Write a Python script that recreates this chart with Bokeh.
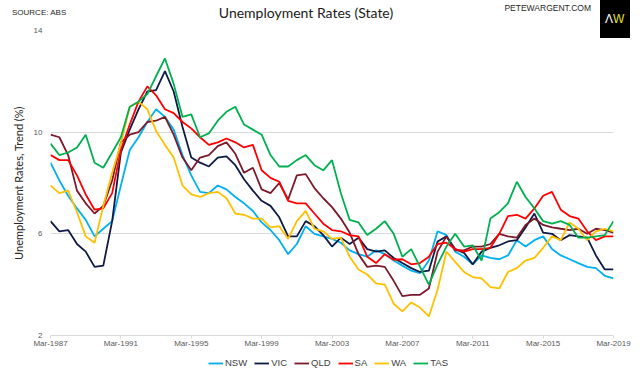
import pandas as pd
from bokeh.plotting import figure
from bokeh.layouts import column
from bokeh.models import (Range1d, FixedTicker, DatetimeTickFormatter, Div,
                          Legend, LegendItem, ColumnDataSource)
from bokeh.embed import file_html
from bokeh.resources import INLINE

# half-yearly observations, Mar-1987 .. Mar-2019
dates = pd.date_range("1987-03-01", "2019-03-01", freq="6MS")

nsw = [8.8, 8.1, 7.5, 7.0, 6.55, 5.9, 6.2, 6.5, 7.9, 9.3, 9.8, 10.4, 10.9, 10.6, 10.1, 9.1, 8.3,
       7.65, 7.6, 7.9, 7.75, 7.45, 7.2, 6.9, 6.45, 6.15, 5.75, 5.2, 5.6, 6.3, 6.0, 5.9, 5.8,
       5.65, 5.35, 5.2, 5.1, 5.35, 5.2, 4.95, 4.75, 4.55, 4.45, 4.95, 6.1, 5.95, 5.3, 5.1, 4.8,
       5.15, 5.05, 5.0, 5.15, 5.75, 5.5, 5.75, 5.9, 5.4, 5.15, 5.0, 4.85, 4.7, 4.65, 4.35, 4.25]
vic = [6.5, 6.1, 6.15, 5.6, 5.3, 4.7, 4.75, 6.5, 9.2, 10.1, 10.9, 11.6, 11.65, 12.4, 11.6, 10.2, 9.0,
       8.8, 8.65, 9.0, 9.05, 8.7, 8.15, 7.7, 7.3, 7.1, 6.65, 5.9, 5.9, 6.5, 6.3, 5.95, 5.5,
       5.85, 5.6, 5.85, 5.4, 5.3, 5.35, 5.05, 4.85, 4.65, 4.5, 4.55, 5.7, 5.9, 5.4, 5.25, 4.8,
       5.3, 5.45, 5.55, 5.7, 5.75, 6.25, 6.8, 6.05, 6.0, 5.75, 5.95, 5.9, 5.85, 5.15, 4.6, 4.6]
qld = [9.9, 9.8, 9.1, 7.7, 7.2, 6.8, 7.1, 8.1, 9.6, 9.9, 10.0, 10.4, 10.45, 10.6, 9.9, 9.0, 8.5,
       9.0, 9.1, 9.45, 9.6, 9.15, 8.4, 8.6, 7.75, 7.6, 8.0, 7.35, 8.3, 8.35, 7.8, 7.4, 7.05,
       6.6, 6.05, 5.2, 4.7, 4.75, 4.7, 4.15, 3.55, 3.6, 3.6, 3.85, 5.3, 5.9, 5.35, 5.35, 5.5,
       5.5, 5.6, 6.0, 5.9, 5.85, 6.35, 6.6, 6.35, 6.25, 6.2, 6.15, 6.2, 6.0, 6.2, 6.15, 6.05]
sa = [9.1, 8.9, 8.9, 8.3, 7.55, 6.95, 7.0, 7.6, 9.3, 10.3, 11.2, 11.8, 11.45, 10.9, 10.75, 10.4, 10.15,
      9.8, 9.5, 9.6, 9.75, 9.6, 9.4, 9.5, 8.5, 8.2, 8.05, 7.3, 7.2, 7.2, 6.8, 6.4, 6.15,
      6.1, 5.95, 5.9, 5.1, 4.85, 5.2, 4.98, 5.0, 4.8, 4.85, 5.1, 5.6, 5.65, 5.4, 5.3, 5.4,
      5.4, 5.45, 6.0, 6.7, 6.75, 6.6, 7.0, 7.5, 7.65, 6.95, 6.7, 6.6, 6.1, 5.75, 5.9, 5.9]
wa = [7.9, 7.6, 7.7, 6.85, 5.9, 5.65, 7.1, 8.4, 9.55, 11.0, 11.2, 10.9, 10.05, 9.5, 9.0, 7.9, 7.55,
      7.45, 7.6, 7.65, 7.4, 6.8, 6.75, 6.6, 6.6, 6.25, 6.3, 5.8, 6.5, 6.9, 6.2, 6.1, 5.8,
      5.85, 5.1, 4.6, 4.4, 4.05, 4.0, 3.25, 2.95, 3.3, 3.1, 2.75, 3.8, 5.3, 4.9, 4.5, 4.3,
      4.25, 3.9, 3.85, 4.5, 4.65, 4.95, 5.05, 5.45, 5.9, 5.75, 6.45, 6.2, 5.75, 6.1, 6.2, 6.1]
tas = [9.55, 9.1, 9.2, 9.4, 9.9, 8.8, 8.6, 9.2, 9.8, 11.0, 11.2, 11.5, 12.2, 12.9, 11.9, 10.6, 10.7,
       9.8, 9.95, 10.45, 10.8, 11.0, 10.3, 10.1, 9.9, 9.1, 8.65, 8.65, 8.9, 9.1, 8.7, 8.5, 8.9,
       7.6, 6.55, 6.45, 5.95, 6.2, 6.5, 6.0, 5.1, 5.4, 4.7, 4.0, 4.8, 5.5, 6.0, 5.5, 5.55,
       4.95, 6.6, 6.85, 7.2, 8.05, 7.45, 7.0, 6.5, 6.4, 6.5, 6.35, 5.85, 5.85, 5.9, 5.95, 6.5]

series_names = ["NSW", "VIC", "QLD", "SA", "WA", "TAS"]
series_colors = ["#00B0F0", "#0F1B45", "#7A1A2A", "#FF0000", "#FFC000", "#00B050"]
tick_labels = ["Mar-1987", "Mar-1991", "Mar-1995", "Mar-1999", "Mar-2003",
               "Mar-2007", "Mar-2011", "Mar-2015", "Mar-2019"]
y_ticks = [2, 6, 10, 14]
title_text = "Unemployment Rates (State)"
source_text = "SOURCE: ABS"
site_text = "PETEWARGENT.COM"

W = 640

# ---------------- header strip (title, source, site, logo) ----------------
ls = "'Liberation Sans', Arial, sans-serif"
hdr_html = (
    '<div style="position:relative;width:640px;height:25px;overflow:visible;z-index:50;">'
    f'<span style="position:absolute;left:12px;top:9px;font:8px/8px {ls};color:#262626;'
    f'white-space:nowrap;">{source_text}</span>'
    '<span style="position:absolute;left:156px;top:5.6px;width:300px;text-align:center;'
    f'font:14px/14px Lato, sans-serif;color:#1a1a1a;white-space:nowrap;">{title_text}</span>'
    f'<span style="position:absolute;right:49px;top:3.8px;font:8.5px/8.5px {ls};color:#262626;'
    f'white-space:nowrap;">{site_text}</span>'
    '<div style="position:absolute;left:600px;top:0px;width:30px;height:38px;background:#000;"></div>'
    f'<span style="position:absolute;left:605px;top:12.5px;font:12px/12px {ls};color:#ffffff;">Λ</span>'
    f'<span style="position:absolute;left:613px;top:12.5px;font:12px/12px {ls};color:#E2E21E;">W</span>'
    '</div>'
)
hdr = Div(text=hdr_html, width=W, height=25, margin=0)

# ---------------- main chart ----------------
source = ColumnDataSource(dict(date=dates, NSW=nsw, VIC=vic, QLD=qld, SA=sa, WA=wa, TAS=tas))

p = figure(width=W, height=328, x_axis_type="datetime",
           x_range=Range1d(dates[0].to_pydatetime(), dates[-1].to_pydatetime()),
           y_range=Range1d(2, 14),
           output_backend="svg", toolbar_location=None,
           min_border_left=50, min_border_right=27, min_border_top=5, min_border_bottom=18)
p.outline_line_color = None
p.background_fill_color = "white"
p.border_fill_color = "white"

for name, color in zip(series_names, series_colors):
    p.line("date", name, source=source, line_color=color, line_width=1.8)

tick_ms = [pd.to_datetime(t, format="%b-%Y").timestamp() * 1000 for t in tick_labels]
p.xaxis.ticker = FixedTicker(ticks=tick_ms)
fmt = "%b-%Y"
p.xaxis.formatter = DatetimeTickFormatter(milliseconds=fmt, seconds=fmt, minsec=fmt, minutes=fmt,
                                          hourmin=fmt, hours=fmt, days=fmt, months=fmt, years=fmt)
p.xaxis.axis_line_color = "#D9D9D9"
p.xaxis.major_tick_line_color = "#D9D9D9"
p.xaxis.major_tick_in = 0
p.xaxis.major_tick_out = 3
p.xaxis.minor_tick_line_color = None
p.xaxis.major_label_standoff = 0
p.xaxis.major_label_text_font = "Liberation Sans"
p.xaxis.major_label_text_font_size = "8px"
p.xaxis.major_label_text_color = "#595959"

p.yaxis.ticker = FixedTicker(ticks=y_ticks)
p.yaxis.axis_line_color = None
p.yaxis.major_tick_line_color = None
p.yaxis.major_tick_in = 0
p.yaxis.major_tick_out = 0
p.yaxis.minor_tick_line_color = None
p.yaxis.major_label_standoff = 8
p.yaxis.major_label_text_font = "Liberation Sans"
p.yaxis.major_label_text_font_size = "8px"
p.yaxis.major_label_text_color = "#595959"
p.yaxis.axis_label = "Unemployment Rates, Trend (%)"
p.yaxis.axis_label_text_font = "Lato"
p.yaxis.axis_label_text_font_size = "11px"
p.yaxis.axis_label_text_font_style = "normal"
p.yaxis.axis_label_text_color = "#262626"
p.yaxis.axis_label_standoff = 6

p.xgrid.grid_line_color = None
p.ygrid.grid_line_color = "#D9D9D9"
p.ygrid.grid_line_width = 1

# ---------------- legend strip ----------------
ftr = figure(width=W, height=21, x_range=Range1d(0, 1), y_range=Range1d(0, 1),
             output_backend="svg", toolbar_location=None, min_border=0,
             x_axis_location=None, y_axis_location=None)
ftr.grid.visible = False
ftr.outline_line_color = None
items = []
for name, color in zip(series_names, series_colors):
    # same series; far outside this strip's ranges, so only the legend swatch shows
    r = ftr.line("date", name, source=source, line_color=color, line_width=1.8)
    items.append(LegendItem(label=name, renderers=[r]))
legend = Legend(items=items, orientation="horizontal", location=(158, 6))
legend.background_fill_alpha = 0
legend.border_line_color = None
legend.padding = 0
legend.margin = 0
legend.spacing = 7
legend.glyph_width = 15
legend.glyph_height = 10
legend.label_height = 10
legend.label_width = 0
legend.label_standoff = 2
legend.label_text_font = "Liberation Sans"
legend.label_text_font_size = "9.5px"
legend.label_text_color = "#404040"
ftr.add_layout(legend)

layout = column(hdr, p, ftr, spacing=0)
open("out.html", "w").write(file_html(layout, INLINE))
